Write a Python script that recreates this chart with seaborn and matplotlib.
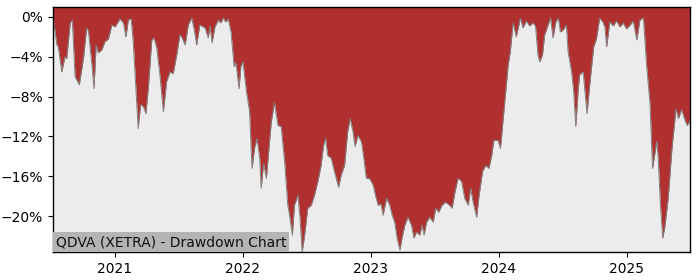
import matplotlib
matplotlib.use("Agg")
import matplotlib.pyplot as plt
import matplotlib.dates as mdates
import matplotlib.transforms as mtransforms
from matplotlib.ticker import PercentFormatter
import seaborn as sns
import pandas as pd

title_text = "QDVA (XETRA) - Drawdown Chart"

dates = [
    "2020-07-08", "2020-07-19", "2020-07-23", "2020-08-02", "2020-08-11", "2020-08-16",
    "2020-08-26", "2020-09-01", "2020-09-09", "2020-09-21", "2020-10-03", "2020-10-12",
    "2020-10-17", "2020-10-27", "2020-11-02", "2020-11-08", "2020-11-14", "2020-11-24",
    "2020-12-03", "2020-12-13", "2020-12-23", "2021-01-01", "2021-01-06", "2021-01-15",
    "2021-01-25", "2021-02-01", "2021-02-08", "2021-02-16", "2021-02-22", "2021-03-01",
    "2021-03-08", "2021-03-15", "2021-03-23", "2021-03-30", "2021-04-06", "2021-04-16",
    "2021-04-22", "2021-04-30", "2021-05-09", "2021-05-19", "2021-05-28", "2021-06-07",
    "2021-06-16", "2021-06-26", "2021-07-05", "2021-07-10", "2021-07-20", "2021-07-29",
    "2021-08-08", "2021-08-15", "2021-08-22", "2021-08-31", "2021-09-15", "2021-09-24",
    "2021-09-29", "2021-10-05", "2021-10-13", "2021-10-23", "2021-10-30", "2021-11-06",
    "2021-11-13", "2021-11-20", "2021-11-28", "2021-12-07", "2021-12-12", "2021-12-21",
    "2021-12-26", "2022-01-01", "2022-01-11", "2022-01-20", "2022-01-27", "2022-02-03",
    "2022-02-10", "2022-02-18", "2022-02-22", "2022-03-01", "2022-03-09", "2022-03-13",
    "2022-03-23", "2022-04-01", "2022-04-11", "2022-04-20", "2022-04-30", "2022-05-09",
    "2022-05-14", "2022-05-22", "2022-05-28", "2022-06-07", "2022-06-13", "2022-06-19",
    "2022-06-26", "2022-07-05", "2022-07-15", "2022-07-24", "2022-08-03", "2022-08-12",
    "2022-08-19", "2022-08-25", "2022-08-31", "2022-09-10", "2022-09-19", "2022-10-01",
    "2022-10-08", "2022-10-18", "2022-10-27", "2022-11-03", "2022-11-11", "2022-11-17",
    "2022-11-25", "2022-12-05", "2022-12-11", "2022-12-19", "2022-12-28", "2023-01-08",
    "2023-01-14", "2023-01-22", "2023-01-30", "2023-02-05", "2023-02-15", "2023-02-24",
    "2023-03-03", "2023-03-10", "2023-03-17", "2023-03-25", "2023-03-31", "2023-04-08",
    "2023-04-17", "2023-04-27", "2023-05-04", "2023-05-11", "2023-05-21", "2023-05-27",
    "2023-06-02", "2023-06-09", "2023-06-18", "2023-06-28", "2023-07-05", "2023-07-14",
    "2023-07-23", "2023-08-02", "2023-08-14", "2023-08-21", "2023-08-29", "2023-09-07",
    "2023-09-17", "2023-09-26", "2023-10-06", "2023-10-13", "2023-10-20", "2023-10-30",
    "2023-11-06", "2023-11-16", "2023-11-25", "2023-12-04", "2023-12-12", "2023-12-18",
    "2023-12-30", "2024-01-06", "2024-01-13", "2024-01-21", "2024-01-28", "2024-02-03",
    "2024-02-11", "2024-02-20", "2024-03-03", "2024-03-10", "2024-03-20", "2024-03-29",
    "2024-04-08", "2024-04-15", "2024-04-22", "2024-04-27", "2024-05-05", "2024-05-11",
    "2024-05-21", "2024-05-28", "2024-06-04", "2024-06-12", "2024-06-19", "2024-06-25",
    "2024-07-03", "2024-07-12", "2024-07-17", "2024-07-27", "2024-08-02", "2024-08-08",
    "2024-08-15", "2024-08-19", "2024-08-29", "2024-09-09", "2024-09-17", "2024-09-28",
    "2024-10-06", "2024-10-15", "2024-10-24", "2024-10-30", "2024-11-04", "2024-11-13",
    "2024-11-23", "2024-12-02", "2024-12-12", "2024-12-21", "2024-12-31", "2025-01-10",
    "2025-01-19", "2025-01-29", "2025-02-07", "2025-02-17", "2025-02-26", "2025-03-08",
    "2025-03-15", "2025-03-27", "2025-03-31", "2025-04-06", "2025-04-13", "2025-04-19",
    "2025-04-29", "2025-05-09", "2025-05-21", "2025-05-28", "2025-06-06", "2025-06-16",
    "2025-06-22", "2025-06-30",
]

drawdown_pct = [
    0.0, -2.8, -3.0, -5.5, -4.0, -4.2,
    -0.6, -0.3, -6.0, -6.8, -4.1, -1.1,
    -1.4, -4.8, -7.2, -2.8, -3.6, -3.3,
    -2.5, -2.2, -0.8, -1.0, -0.7, -0.2,
    -0.6, -2.0, -0.3, -0.2, -2.5, -6.8,
    -11.2, -8.8, -9.0, -9.7, -7.1, -2.3,
    -2.1, -3.1, -5.8, -9.5, -6.5, -5.5,
    -5.7, -3.8, -1.8, -2.0, -2.8, -0.8,
    -0.1, -1.3, -2.8, -0.8, -1.1, -2.1,
    -0.9, -2.6, -1.0, -0.3, -0.6, -0.1,
    -0.5, -0.2, -1.5, -5.0, -4.6, -7.2,
    -5.0, -4.5, -7.5, -9.5, -15.2, -13.2,
    -12.2, -14.2, -17.2, -14.7, -16.2, -14.5,
    -10.5, -8.6, -10.9, -11.0, -14.5, -18.9,
    -19.9, -21.9, -18.9, -17.9, -20.2, -23.6,
    -21.9, -19.2, -18.9, -17.9, -16.5, -14.9,
    -12.9, -12.2, -13.9, -14.2, -15.5, -17.1,
    -15.9, -14.9, -11.5, -10.2, -11.5, -13.0,
    -11.9, -12.5, -13.9, -16.2, -16.2, -16.9,
    -17.9, -18.9, -18.8, -19.9, -18.2, -18.9,
    -19.9, -20.6, -22.2, -23.4, -22.2, -20.9,
    -20.1, -20.9, -22.2, -21.6, -21.9, -20.9,
    -21.9, -20.6, -20.1, -20.6, -19.2, -19.6,
    -18.9, -18.6, -18.9, -19.2, -17.6, -16.2,
    -16.5, -18.2, -18.9, -17.2, -18.6, -20.1,
    -17.9, -15.5, -14.9, -15.2, -13.9, -12.4,
    -12.4, -13.2, -10.5, -7.5, -4.8, -3.5,
    -0.6, -2.0, -0.1, -1.1, -0.4, -0.9,
    -0.6, -0.9, -3.8, -4.5, -3.8, -1.8,
    -0.8, -0.1, -2.1, -0.5, -0.1, -1.5,
    -1.3, -0.8, -3.5, -5.5, -7.5, -11.0,
    -7.2, -5.8, -5.5, -9.7, -6.7, -3.0,
    -2.2, -0.1, -0.5, -1.0, -3.0, -0.5,
    -0.9, -0.4, -1.0, -0.6, -1.2, -0.8,
    -0.4, -2.3, -0.3, -0.1, -4.8, -8.8,
    -15.2, -12.5, -14.0, -18.5, -22.2, -21.1,
    -18.1, -13.4, -9.2, -10.2, -9.3, -10.4,
    -10.9, -10.4,
]

y_ticks = [0, -4, -8, -12, -16, -20]

df = pd.DataFrame({"date": pd.to_datetime(dates), "dd": drawdown_pct})

fig = plt.figure(figsize=(7, 2.8), dpi=100)
ax = fig.add_axes([53 / 700, 28 / 280, 637 / 700, 245 / 280])
ax.set_facecolor("#ececec")

y_top = 1.0
y_bot = min(drawdown_pct)

ax.fill_between(df["date"], df["dd"], y_top, color="#b03030", linewidth=0, zorder=2)
sns.lineplot(data=df, x="date", y="dd", ax=ax, color="#808080", linewidth=0.7, zorder=3)

ax.set_xlim(df["date"].iloc[0], df["date"].iloc[-1])
ax.set_ylim(y_bot, y_top)
ax.set_yticks(y_ticks)
ax.yaxis.set_major_formatter(PercentFormatter(decimals=0))
ax.xaxis.set_major_locator(mdates.YearLocator())
ax.xaxis.set_major_formatter(mdates.DateFormatter("%Y"))
ax.set_xlabel("")
ax.set_ylabel("")
ax.tick_params(labelsize=10)
for s in ax.spines.values():
    s.set_linewidth(1.0)
    s.set_zorder(5)

pad_pt = 2
trans = mtransforms.offset_copy(ax.transAxes, fig=fig, x=pad_pt, y=pad_pt, units="points")
ax.text(0, 0, title_text, transform=trans, ha="left", va="bottom",
        fontsize=10, color="#111111", zorder=6,
        bbox=dict(facecolor="#b4b4b4", edgecolor="none", pad=pad_pt))

fig.savefig("out.png", dpi=100)
